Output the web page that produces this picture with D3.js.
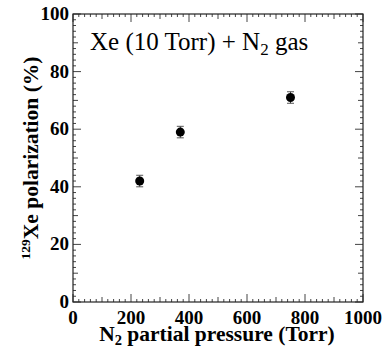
<!DOCTYPE html>
<html><head><meta charset="utf-8">
<script src="https://cdn.jsdelivr.net/npm/d3@7"></script>
<style>body{margin:0;background:#fff}svg{display:block}
text{font-family:"Liberation Serif","DejaVu Serif","Times New Roman",serif}</style>
</head><body>
<script>
const pressures = [230, 370, 750];
const polarization = [42, 59, 71];
const errors = [2, 2, 2];
const xTickLabels = [0, 200, 400, 600, 800, 1000];
const yTickLabels = [0, 20, 40, 60, 80, 100];

const W = 382, H = 349;
const m = {left: 73, top: 14, right: 382 - 363, bottom: 349 - 302};
const svg = d3.select("body").append("svg").attr("width", W).attr("height", H);
const x = d3.scaleLinear().domain([0, 1000]).range([m.left, W - m.right]);
const y = d3.scaleLinear().domain([0, 100]).range([H - m.bottom, m.top]);
const tickColor = "#444";

function tickLen(v, major, mid) { return v % major === 0 ? 8 : (v % mid === 0 ? 5 : 3); }

const xMinor = d3.range(0, 1001, 20);
const yMinor = d3.range(0, 101, 2);
const g = svg.append("g");
xMinor.forEach(v => {
  const L = tickLen(v, 200, 100);
  g.append("line").attr("x1", x(v)).attr("x2", x(v)).attr("y1", y(0)).attr("y2", y(0) - L).attr("stroke", tickColor);
  g.append("line").attr("x1", x(v)).attr("x2", x(v)).attr("y1", y(100)).attr("y2", y(100) + L).attr("stroke", tickColor);
});
yMinor.forEach(v => {
  const L = tickLen(v, 20, 10);
  g.append("line").attr("y1", y(v)).attr("y2", y(v)).attr("x1", x(0)).attr("x2", x(0) + L).attr("stroke", tickColor);
  g.append("line").attr("y1", y(v)).attr("y2", y(v)).attr("x1", x(1000)).attr("x2", x(1000) - L).attr("stroke", tickColor);
});
svg.append("rect").attr("x", x(0)).attr("y", y(100)).attr("width", x(1000) - x(0)).attr("height", y(0) - y(100))
  .attr("fill", "none").attr("stroke", "#222").attr("stroke-width", 1.2);

svg.append("g").selectAll("text").data(xTickLabels).join("text")
  .attr("x", d => x(d)).attr("y", y(0) + 22).attr("text-anchor", "middle")
  .attr("font-weight", "bold").attr("font-size", 19).text(d => d);
svg.append("g").selectAll("text").data(yTickLabels).join("text")
  .attr("x", x(0) - 4).attr("y", d => y(d) + 6).attr("text-anchor", "end")
  .attr("font-weight", "bold").attr("font-size", 19).text(d => d);

const xt = svg.append("text").attr("x", 217).attr("y", 341).attr("text-anchor", "middle")
  .attr("font-weight", "bold").attr("font-size", 21.5);
xt.append("tspan").text("N");
xt.append("tspan").attr("font-size", 14.5).attr("dy", 4).text("2");
xt.append("tspan").attr("dy", -4).text(" partial pressure (Torr)");

const yt = svg.append("text").attr("transform", `translate(38,${(y(0) + y(100)) / 2}) rotate(-90)`)
  .attr("text-anchor", "middle").attr("font-weight", "bold").attr("font-size", 21.5);
yt.append("tspan").attr("font-size", 13.5).attr("dy", -8).text("129");
yt.append("tspan").attr("dy", 8).text("Xe polarization (%)");

const lt = svg.append("text").attr("x", 90).attr("y", 50).attr("font-size", 25);
lt.append("tspan").text("Xe (10 Torr) + N");
lt.append("tspan").attr("font-size", 17).attr("dy", 5).text("2");
lt.append("tspan").attr("dy", -5).text(" gas");

const data = pressures.map((p, i) => ({p, v: polarization[i], e: errors[i]}));
const pts = svg.append("g");
data.forEach(d => {
  pts.append("line").attr("x1", x(d.p)).attr("x2", x(d.p)).attr("y1", y(d.v - d.e)).attr("y2", y(d.v + d.e)).attr("stroke", "#333");
  [d.v - d.e, d.v + d.e].forEach(e => pts.append("line").attr("x1", x(d.p) - 3.5).attr("x2", x(d.p) + 3.5)
    .attr("y1", y(e)).attr("y2", y(e)).attr("stroke", "#555"));
  pts.append("circle").attr("cx", x(d.p)).attr("cy", y(d.v)).attr("r", 4.5).attr("fill", "#000");
});
</script>
</body></html>
